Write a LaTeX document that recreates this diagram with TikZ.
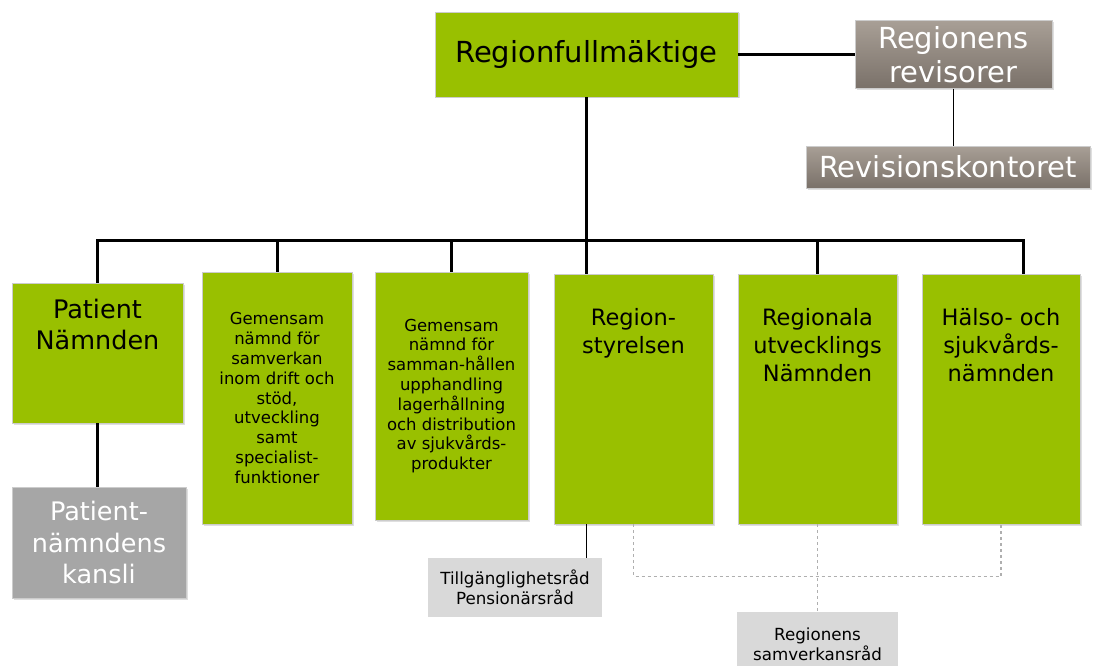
\documentclass[tikz,border=0pt]{standalone}
\usepackage{fontspec}
\setmainfont{DejaVu Sans}
\usetikzlibrary{shadows}
\definecolor{rgreen}{RGB}{153,192,0}
\definecolor{rbrownT}{RGB}{168,159,150}
\definecolor{rbrownB}{RGB}{122,113,105}
\definecolor{rgray}{RGB}{166,166,166}
\definecolor{rlight}{RGB}{217,217,217}
\definecolor{rdash}{RGB}{175,175,175}

\begin{document}
\begin{tikzpicture}[x=1pt,y=-1pt,
  box/.style={rectangle, inner sep=0pt, align=center, draw=black!20, line width=0.8pt,
    drop shadow={opacity=0.25, shadow xshift=1.5pt, shadow yshift=-1.5pt}},
  gbox/.style={box, fill=rgreen},
  bbox/.style={box, top color=rbrownT, bottom color=rbrownB, text=white},
  kbox/.style={box, fill=rgray, text=white},
  lbox/.style={rectangle, inner sep=0pt, align=center, fill=rlight},
  fA/.style={font=\fontsize{29}{34}\selectfont},
  fB/.style={font=\fontsize{25.5}{31.7}\selectfont},
  fC/.style={font=\fontsize{22.5}{27.7}\selectfont},
  fD/.style={font=\fontsize{16.5}{19.8}\selectfont},
  fE/.style={font=\fontsize{16.7}{20}\selectfont},
  toptxt/.style={align=center, anchor=north, inner sep=0pt},
  bus/.style={line width=3pt},
  thinl/.style={line width=1.3pt},
  dashl/.style={draw=rdash, dashed, line width=1.2pt}]
\fill [white] (0,0) rectangle (1094,666);
\useasboundingbox (0,0) rectangle (1094,666);

\node [gbox, fA, minimum width=303pt, minimum height=85pt] (rf) at (586.5,54.5) {Regionfullmäktige};
\node [bbox, fA, minimum width=197pt, minimum height=68pt] (rv) at (953.5,54.5) {Regionens\\revisorer};
\node [bbox, fA, minimum width=284pt, minimum height=42pt] (rk) at (948,167) {Revisionskontoret};

\node [gbox, minimum width=171pt, minimum height=140pt,
  label={[toptxt, fB, yshift=-16pt]north:{Patient\\Nämnden}}] (pat) at (97.5,353) {};
\node [gbox, fD, minimum width=150pt, minimum height=252pt] (g1) at (277,398)
  {Gemensam\\nämnd för\\samverkan\\inom drift och\\stöd,\\utveckling\\samt\\specialist-\\funktioner};
\node [gbox, fD, minimum width=153pt, minimum height=248pt] (g2) at (451.5,396)
  {Gemensam\\nämnd för\\samman-hållen\\upphandling\\lagerhållning\\och distribution\\av sjukvårds-\\produkter};
\node [gbox, minimum width=159pt, minimum height=250pt,
  label={[toptxt, fC, yshift=-35pt]north:{Region-\\styrelsen}}] (rs) at (633.5,399) {};
\node [gbox, minimum width=159pt, minimum height=250pt,
  label={[toptxt, fC, yshift=-35pt]north:{Regionala\\utvecklings\\Nämnden}}] (rn) at (817.5,399) {};
\node [gbox, minimum width=158pt, minimum height=250pt,
  label={[toptxt, fC, yshift=-35pt]north:{Hälso- och\\sjukvårds-\\nämnden}}] (hs) at (1001,399) {};

\node [kbox, fB, minimum width=174pt, minimum height=111pt] (kan) at (99,542.5) {Patient-\\nämndens\\kansli};
\node [lbox, fE, minimum width=174pt, minimum height=59pt] (ti) at (515,587.5) {Tillgänglighetsråd\\Pensionärsråd};
\node [lbox, fE, minimum width=161pt, minimum height=64pt] (sv) at (817.5,644) {Regionens\\samverkansråd};

\coordinate (busR) at (1023,240);
\draw [bus] (rf.east) -- (rv.west);
\draw [thinl] (rv.south) -- (rv.south |- rk.north);
\draw [bus] (rf.south) -- (rf.south |- rs.north);
\draw [bus] (pat.north) -- (pat.north |- busR) -- (busR) -- (busR |- hs.north);
\draw [bus] (g1.north |- busR) -- (g1.north);
\draw [bus] (g2.north |- busR) -- (g2.north);
\draw [bus] (rn.north |- busR) -- (rn.north);
\draw [bus] (pat.south) -- (pat.south |- kan.north);
\draw [thinl] (rf.south |- rs.south) -- (rf.south |- ti.north);
\draw [dashl] (rs.south) -- ++(0,52) -| (hs.south);
\draw [dashl] (rn.south) -- (sv.north);

\end{tikzpicture}
\end{document}
